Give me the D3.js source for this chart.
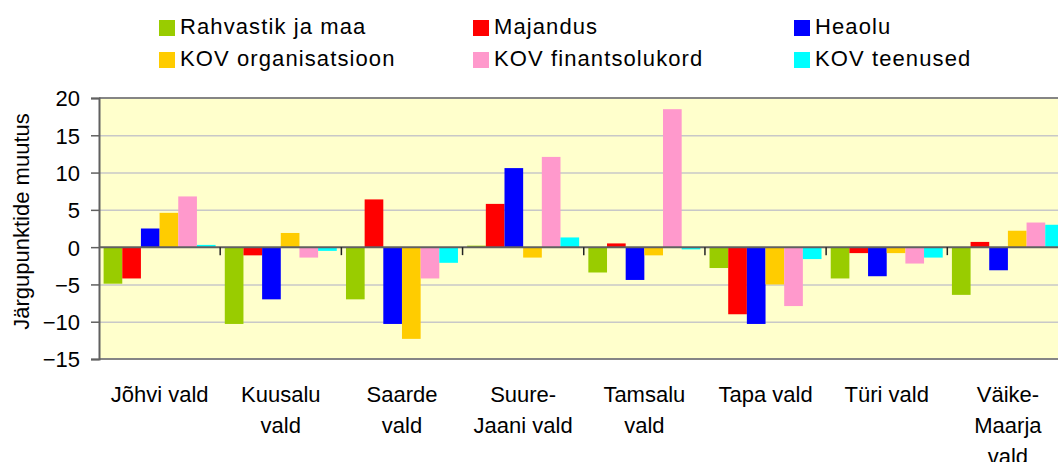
<!DOCTYPE html>
<html lang="en">
<head>
  <meta charset="utf-8"/>
  <script src="https://d3js.org/d3.v7.min.js"></script>
  <style>
    body { margin: 0; background: #fff; }
    svg text {
      font-family: "Liberation Sans", Arial, sans-serif;
      fill: #000;
    }
    .legend text { font-size: 22px; letter-spacing: 1.1px; }
    .grid line { stroke: #c8c8c8; stroke-width: 1.5px; }
  </style>
</head>
<body>
  <div id="chart"></div>
  <script>
    // Municipalities (x categories) and how their labels wrap
    const categories = ["Jõhvi vald", "Kuusalu vald", "Saarde vald", "Suure-Jaani vald",
                        "Tamsalu vald", "Tapa vald", "Türi vald", "Väike-Maarja vald"];
    const labelLines = [["Jõhvi vald"], ["Kuusalu", "vald"], ["Saarde", "vald"], ["Suure-", "Jaani vald"],
                        ["Tamsalu", "vald"], ["Tapa vald"], ["Türi vald"], ["Väike-", "Maarja", "vald"]];

    const seriesNames  = ["Rahvastik ja maa", "Majandus", "Heaolu",
                          "KOV organisatsioon", "KOV finantsolukord", "KOV teenused"];
    const seriesColors = ["#99cc00", "#ff0000", "#0000ff", "#ffcc00", "#ff99cc", "#00ffff"];

    // one array per series, in category order
    const rahvastik   = [-4.9, -10.3, -7.0,  0.2, -3.4, -2.8, -4.2, -6.4];
    const majandus    = [-4.2,  -1.1,  6.4,  5.8,  0.5, -9.0, -0.8,  0.7];
    const heaolu      = [ 2.5,  -7.0, -10.3, 10.6, -4.4, -10.3, -3.9, -3.1];
    const kovOrg      = [ 4.6,   1.9, -12.3, -1.4, -1.1, -5.0, -0.8,  2.2];
    const kovFinants  = [ 6.8,  -1.4,  -4.2, 12.1, 18.5, -7.9, -2.2,  3.3];
    const kovTeenused = [ 0.3,  -0.5,  -2.1,  1.3, -0.3, -1.6, -1.4,  3.0];
    const seriesValues = [rahvastik, majandus, heaolu, kovOrg, kovFinants, kovTeenused];

    const yTicks = [20, 15, 10, 5, 0, -5, -10, -15];

    const width = 1058, height = 462;
    const plot = { left: 99, right: 1068.5, top: 98, bottom: 359 };

    const svg = d3.select("#chart").append("svg")
      .attr("width", width)
      .attr("height", height);

    const x0 = d3.scaleBand()
      .domain(categories)
      .range([plot.left, plot.right])
      .padding(0);

    const groupPad = 4.6;
    const x1 = d3.scaleBand()
      .domain(d3.range(seriesNames.length))
      .range([groupPad, x0.bandwidth() - groupPad])
      .padding(0);

    const y = d3.scaleLinear()
      .domain([-15, 20])
      .range([plot.bottom, plot.top]);

    // plot background
    svg.append("rect")
      .attr("x", plot.left)
      .attr("y", plot.top)
      .attr("width", plot.right - plot.left)
      .attr("height", plot.bottom - plot.top)
      .attr("fill", "#ffffcc");

    // horizontal gridlines
    svg.append("g")
      .attr("class", "grid")
      .attr("transform", `translate(${plot.left},0)`)
      .call(d3.axisLeft(y).tickValues(yTicks.filter(t => t !== 20 && t !== -15 && t !== 0))
        .tickSize(-(plot.right - plot.left)).tickFormat(""))
      .call(g => g.select(".domain").remove());

    // bars
    const flat = [];
    categories.forEach((c, i) => {
      seriesValues.forEach((vals, s) => flat.push({ cat: c, s: s, v: vals[i] }));
    });

    svg.append("g")
      .selectAll("rect")
      .data(flat)
      .enter()
      .append("rect")
      .attr("x", d => x0(d.cat) + x1(d.s))
      .attr("width", x1.bandwidth())
      .attr("y", d => y(Math.max(0, d.v)))
      .attr("height", d => Math.abs(y(d.v) - y(0)))
      .attr("fill", d => seriesColors[d.s]);

    // plot frame: top and bottom gray borders
    [plot.top, plot.bottom].forEach(yy => {
      svg.append("line")
        .attr("x1", plot.left).attr("x2", plot.right)
        .attr("y1", yy).attr("y2", yy)
        .attr("stroke", "#858585")
        .attr("stroke-width", 2);
    });

    // zero line with category separators
    svg.append("line")
      .attr("x1", plot.left).attr("x2", plot.right)
      .attr("y1", y(0)).attr("y2", y(0))
      .attr("stroke", "#606060")
      .attr("stroke-width", 2);

    svg.append("g")
      .selectAll("line")
      .data(categories.slice(1))
      .enter()
      .append("line")
      .attr("x1", d => x0(d)).attr("x2", d => x0(d))
      .attr("y1", y(0)).attr("y2", y(0) + 8)
      .attr("stroke", "#222")
      .attr("stroke-width", 1.5);

    // y axis
    const yAxis = svg.append("g")
      .attr("transform", `translate(${plot.left},0)`)
      .call(d3.axisLeft(y).tickValues(yTicks).tickSize(8).tickPadding(11).tickFormat(d3.format("d")));
    yAxis.select(".domain").attr("stroke", "#606060").attr("stroke-width", 2);
    yAxis.selectAll(".tick line").attr("stroke", "#606060").attr("stroke-width", 1.5);
    yAxis.selectAll(".tick text")
      .attr("font-size", "22px")
      .attr("font-family", "Liberation Sans, Arial, sans-serif")
      .attr("fill", "#000")
      .attr("dy", "0.36em");

    svg.append("text")
      .attr("transform", `translate(29,${(plot.top + plot.bottom) / 2 - 7}) rotate(-90)`)
      .attr("text-anchor", "middle")
      .attr("font-size", "22px")
      .text("Järgupunktide muutus");

    // category labels under the plot
    const xl = svg.append("g")
      .selectAll("text")
      .data(categories)
      .enter()
      .append("text")
      .attr("x", d => x0(d) + x0.bandwidth() / 2)
      .attr("y", 402)
      .attr("text-anchor", "middle")
      .attr("font-size", "22px");
    xl.selectAll("tspan")
      .data((d, i) => labelLines[i])
      .enter()
      .append("tspan")
      .attr("x", function() { return this.parentNode.getAttribute("x"); })
      .attr("dy", (d, i) => i === 0 ? 0 : 31)
      .text(d => d);

    // legend, three columns by two rows
    const legendCols = [159, 473, 794];
    const legendRows = [20, 52];
    const legend = svg.append("g")
      .attr("class", "legend")
      .selectAll("g")
      .data(seriesNames)
      .enter()
      .append("g")
      .attr("transform", (d, i) => `translate(${legendCols[i % 3]},${legendRows[Math.floor(i / 3)]})`);
    legend.append("rect")
      .attr("width", 16)
      .attr("height", 16)
      .attr("fill", (d, i) => seriesColors[i]);
    legend.append("text")
      .attr("x", 21)
      .attr("y", 13.5)
      .text(d => d);
  </script>
</body>
</html>
